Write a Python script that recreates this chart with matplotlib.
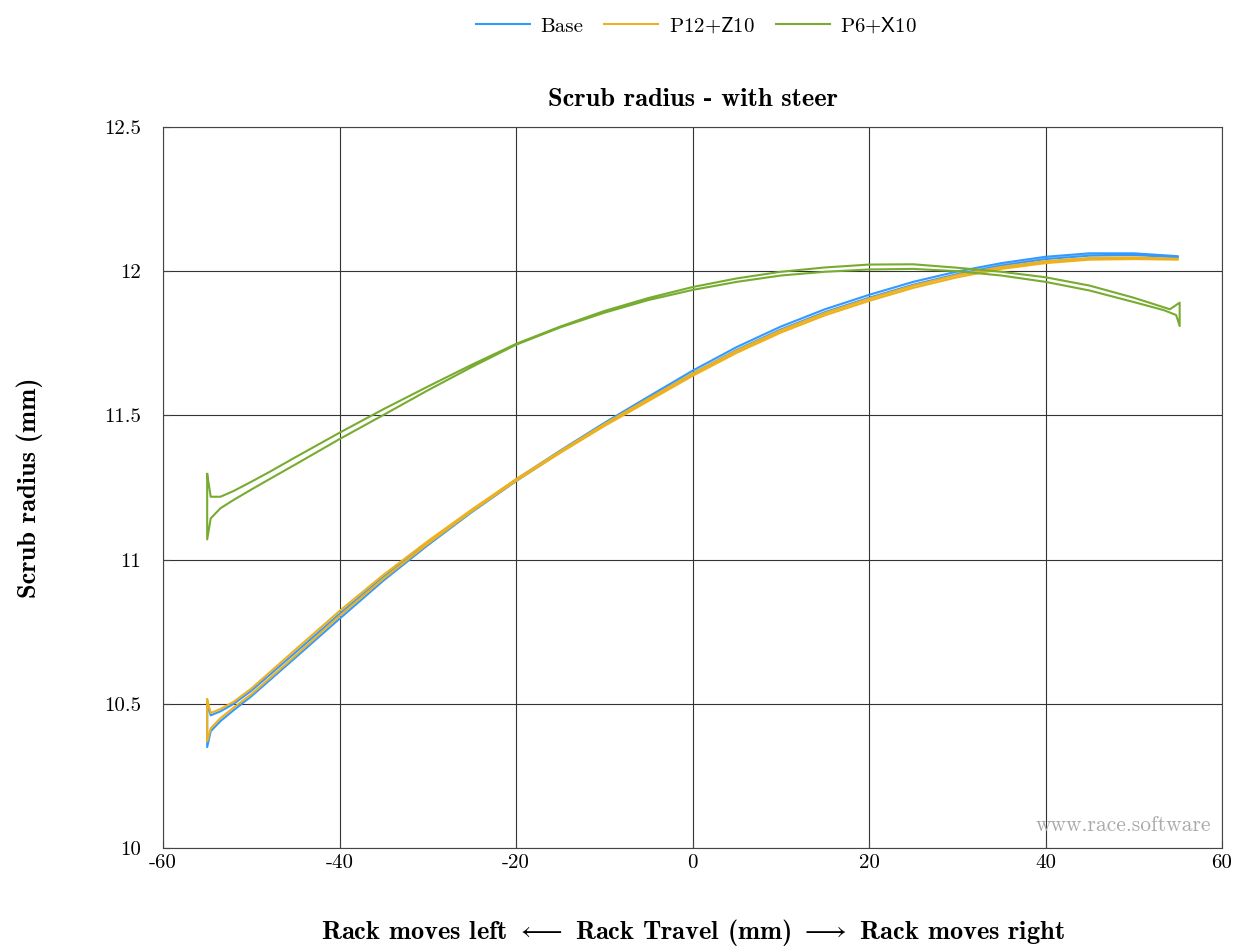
import numpy as np
import matplotlib
matplotlib.use('Agg')
import matplotlib.pyplot as plt

# fonts: computer modern look
plt.rcParams['font.family'] = 'cmr10'
plt.rcParams['mathtext.fontset'] = 'cm'
plt.rcParams['axes.unicode_minus'] = False
plt.rcParams['axes.formatter.use_mathtext'] = False

# Rack travel (mm) for blue / orange loops
x_bo = [-55, -54.6, -53.5, -52, -50, -45, -40, -35, -30, -25, -20, -15, -10,
        -5, 0, 5, 10, 15, 20, 25, 30, 35, 40, 45, 50, 55]

# Base: outgoing branch and return branch
base_up = [10.50, 10.46, 10.474, 10.500, 10.545, 10.678, 10.812, 10.940, 11.058,
           11.170, 11.278, 11.378, 11.474, 11.565, 11.655, 11.737, 11.808, 11.868,
           11.918, 11.963, 11.999, 12.028, 12.050, 12.062, 12.062, 12.052]
base_lo = [10.35, 10.405, 10.44, 10.478, 10.526, 10.66, 10.795, 10.928, 11.050,
           11.165, 11.272, 11.372, 11.468, 11.557, 11.645, 11.727, 11.798, 11.858,
           11.908, 11.953, 11.990, 12.020, 12.042, 12.054, 12.056, 12.048]

# P12+Z10
p12_up = [10.515, 10.468, 10.482, 10.507, 10.553, 10.688, 10.822, 10.948, 11.064,
          11.174, 11.279, 11.376, 11.470, 11.558, 11.645, 11.725, 11.795, 11.855,
          11.905, 11.950, 11.987, 12.015, 12.035, 12.046, 12.048, 12.043]
p12_lo = [10.37, 10.415, 10.45, 10.487, 10.533, 10.667, 10.805, 10.935, 11.055,
          11.168, 11.273, 11.370, 11.463, 11.550, 11.637, 11.717, 11.787, 11.847,
          11.897, 11.942, 11.979, 12.008, 12.028, 12.040, 12.042, 12.040]

# P6+X10
x_p6_up = [-55, -54.6, -53.5, -52, -50, -48, -45, -40, -35, -30, -25, -20, -15,
           -10, -5, 0, 5, 10, 15, 20, 25, 30, 35, 40, 45, 50, 54.1, 55.2]
p6_up = [11.297, 11.218, 11.218, 11.238, 11.27, 11.303, 11.355, 11.440, 11.522,
         11.600, 11.676, 11.748, 11.808, 11.862, 11.907, 11.945, 11.975, 11.998,
         12.013, 12.023, 12.024, 12.012, 11.998, 11.979, 11.950, 11.908, 11.868,
         11.891]
x_p6_lo = [-55, -54.6, -53.5, -52, -50, -48, -45, -40, -35, -30, -25, -20, -15,
           -10, -5, 0, 5, 10, 15, 20, 25, 30, 35, 40, 45, 50, 53.4, 54.8, 55.2]
p6_lo = [11.07, 11.143, 11.178, 11.207, 11.243, 11.278, 11.33, 11.418, 11.502,
         11.587, 11.668, 11.745, 11.805, 11.856, 11.900, 11.935, 11.963, 11.985,
         11.998, 12.006, 12.008, 12.000, 11.985, 11.963, 11.933, 11.893, 11.865,
         11.848, 11.81]

fig = plt.figure(figsize=(12.39, 9.47), dpi=100)
ax = fig.add_axes([0.1316, 0.1045, 0.8547, 0.7614])

def loop(xu, yu, xl, yl):
    # out along one branch, back along the other
    return list(xu) + list(xl)[::-1] + [xu[0]], list(yu) + list(yl)[::-1] + [yu[0]]

lw = 1.5
bx, by = loop(x_bo, base_up, x_bo, base_lo)
ax.plot(bx, by, color='#3399ff', lw=lw, label='Base')
ox, oy = loop(x_bo, p12_up, x_bo, p12_lo)
ax.plot(ox, oy, color='#edb120', lw=lw, label=r'P12$\mathsf{+Z}$10')
gx, gy = loop(x_p6_up, p6_up, x_p6_lo, p6_lo)
ax.plot(gx, gy, color='#77ac30', lw=lw, label=r'P6$\mathsf{+X}$10')

ax.set_xlim(-60, 60)
ax.set_ylim(10, 12.5)
ax.set_xticks(np.arange(-60, 61, 20))
ax.set_yticks([10, 10.5, 11, 11.5, 12, 12.5])
ax.set_yticklabels(['10', '10.5', '11', '11.5', '12', '12.5'])
ax.grid(True, color='#333333', lw=0.8)
ax.tick_params(direction='in', labelsize=15, length=5, color='#444444')
ax.tick_params(axis='x', pad=4)
ax.tick_params(axis='y', pad=16)
for s in ax.spines.values():
    s.set_color('#444444')

ax.set_title('Scrub radius - with steer', fontsize=19, family='cmb10', pad=15)
ax.set_xlabel(r'Rack moves left $\longleftarrow$ Rack Travel (mm) $\longrightarrow$ Rack moves right',
              fontsize=19, family='cmb10', labelpad=33)
ax.set_ylabel('Scrub radius (mm)', fontsize=19, family='cmb10', labelpad=44)

ax.text(0.99, 0.018, 'www.race.software', transform=ax.transAxes, ha='right',
        va='bottom', fontsize=15.5, color='#aaaaaa')

fig.legend(loc='upper center', bbox_to_anchor=(0.562, 1.003), ncol=3, frameon=False,
           fontsize=15, handlelength=2.6, columnspacing=1.0, handletextpad=0.5)

plt.savefig('out.png', dpi=100)
